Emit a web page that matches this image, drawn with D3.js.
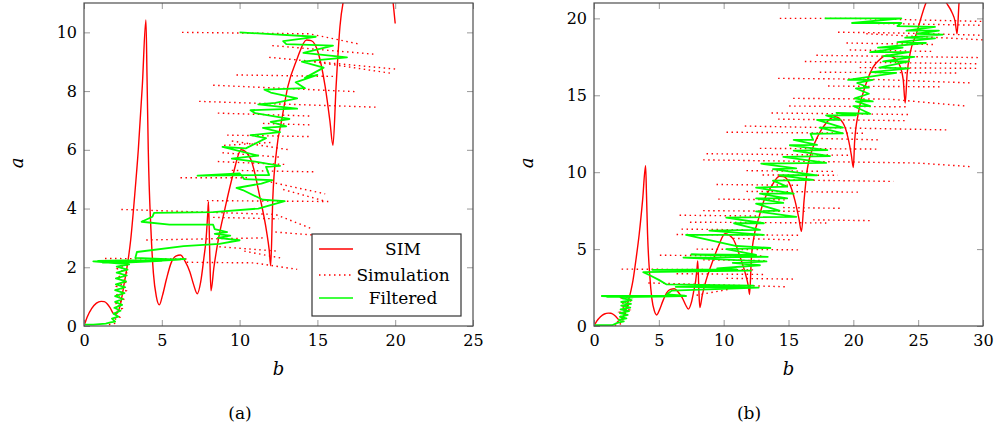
<!DOCTYPE html>
<html>
<head>
<meta charset="utf-8">
<script src="https://cdn.jsdelivr.net/npm/d3@7"></script>
<style>
body { margin: 0; background: #fff; }
</style>
</head>
<body>
<script>
// SIM curve (shared by both panels)
var simB = [0,0.2,0.5,0.8,1.1,1.3,1.5,1.7,1.9,2.05,2.3,2.6,2.85,3.0,3.25,3.49,3.75,3.98,4.05,4.13,
  4.3,4.46,4.65,4.84,5.05,5.3,5.6,5.9,6.2,6.5,6.8,7.05,7.28,7.5,7.7,7.84,7.95,8.0,8.08,8.16,
  8.35,8.63,9.06,9.6,10.1,10.7,11.3,11.74,11.9,12.0,12.13,12.38,12.7,13.1,13.67,14.3,14.6,15.06,15.5,15.8,
  16.0,16.2,16.45,16.8,17.3,17.9,18.6,19.2,19.6,19.85,20.0,20.1,20.4,21.0,21.5,22.0,22.6,23.2,23.6,23.85,
  24.0,24.15,24.4,24.86,25.6,26.4,27.18,27.6,27.85,28.0,28.15,28.4];
var simA = [0,0.3,0.6,0.78,0.84,0.83,0.75,0.6,0.42,0.4,0.65,1.5,2.3,2.93,4.4,6.0,8.2,10.42,8.5,6.0,
  3.3,1.8,1.0,0.72,1.05,1.6,2.15,2.38,2.42,2.2,1.85,1.4,1.1,1.5,2.3,2.93,3.8,4.23,2.5,1.2,
  2.0,2.93,4.0,5.2,6.0,5.7,4.4,3.2,2.6,2.05,4.3,6.0,7.0,8.15,9.06,9.74,9.72,9.29,8.15,7.0,
  6.15,8.15,10.2,11.4,12.4,13.2,13.6,13.2,12.2,11.1,10.3,12.0,13.9,15.8,16.8,17.3,17.6,17.4,16.9,16.0,
  14.5,16.4,17.8,19.0,21.0,22.0,21.0,20.4,19.8,19.0,21.0,23.0];

// Simulation (dotted) strokes, panel (a): each is a list of [b, a]
var simulationLeft = [
  [[6.3,10.0],[14.5,9.95],[17.7,9.6]],
  [[12.1,9.55],[18.8,9.25]],
  [[11.9,9.15],[20.0,8.75]],
  [[14.8,9.0],[19.8,8.6]],
  [[9.8,8.55],[16.0,8.5]],
  [[8.3,8.2],[17.5,7.98]],
  [[7.4,7.65],[18.9,7.45]],
  [[8.6,7.25],[14.6,7.15]],
  [[11.5,6.9],[14.5,6.85]],
  [[9.2,6.5],[14.6,6.45]],
  [[9.5,6.3],[13.2,6.0]],
  [[9.0,6.15],[12.0,6.25]],
  [[8.9,5.9],[12.6,5.75]],
  [[8.6,5.6],[13.0,5.5]],
  [[6.2,5.05],[10.5,5.05]],
  [[9.5,5.3],[14.8,5.25]],
  [[12.0,4.9],[15.5,4.5]],
  [[12.8,4.65],[15.5,4.25]],
  [[7.9,4.27],[15.7,4.24]],
  [[2.4,3.97],[12.3,3.8],[14.7,3.3]],
  [[8.3,3.7],[12.5,3.65]],
  [[12.3,3.2],[14.7,3.1]],
  [[4.0,2.93],[11.5,3.0]],
  [[8.7,2.7],[12.4,2.55]],
  [[10.3,2.55],[12.8,2.3]],
  [[1.35,2.3],[6.6,2.28]],
  [[6.6,2.17],[10.9,2.15],[13.7,1.93]],
  [[1.6,0.05],[2.1,0.1],[1.85,0.2],[2.3,0.3],[1.95,0.45],[2.45,0.6],[2.0,0.75],[2.6,0.9],[2.05,1.05],
   [2.7,1.2],[2.1,1.35],[2.75,1.5],[2.1,1.65],[2.8,1.8],[2.15,1.95],[2.9,2.1],[2.2,2.25]]
];

// Simulation (dotted) strokes, panel (b)
var simulationRight = [
  [[14.33,20.0],[19.98,20.0],[30,19.8]],
  [[19.98,19.7],[30,19.55]],
  [[18.82,19.1],[23.57,19.05],[30,18.9]],
  [[21.0,19.0],[30,18.6]],
  [[19.47,18.4],[26.14,18.3]],
  [[19.72,17.95],[26.14,17.85]],
  [[17.15,17.6],[29.74,17.45]],
  [[16.26,17.2],[29.74,17.05]],
  [[20.49,16.8],[29.74,16.75]],
  [[17.41,16.5],[27.94,16.45]],
  [[14.2,16.1],[21.0,16.05],[29.22,15.8]],
  [[18.05,15.6],[26.66,15.55]],
  [[15.36,14.8],[22.8,14.75],[28.7,14.3]],
  [[15.05,14.3],[24.1,14.25]],
  [[13.69,13.85],[24.3,13.75]],
  [[14.2,13.45],[24.0,13.35]],
  [[11.63,13.0],[27.17,12.75]],
  [[10.22,12.6],[21.0,12.53]],
  [[17.15,12.2],[22.03,12.1]],
  [[12.79,11.55],[22.0,11.5]],
  [[8.68,11.2],[19.72,11.1]],
  [[8.42,10.8],[24.86,10.6],[29.22,10.35]],
  [[11.76,10.1],[18.44,10.05]],
  [[13.0,9.82],[18.8,9.8]],
  [[14.6,9.5],[23.1,9.4]],
  [[9.45,9.2],[15.87,9.15]],
  [[11.76,8.75],[20.49,8.7]],
  [[9.58,8.25],[14.84,8.2]],
  [[14.59,7.7],[19.21,7.65]],
  [[8.42,7.5],[16.5,7.45]],
  [[6.6,7.2],[12.79,7.15]],
  [[16.9,6.9],[21.3,6.85]],
  [[7.4,6.75],[17.92,6.7]],
  [[6.75,6.3],[11.76,6.25]],
  [[6.37,5.95],[15.87,5.9]],
  [[10.73,5.7],[15.36,5.6]],
  [[7.91,5.0],[15.87,4.95]],
  [[5.08,4.6],[13.05,4.55]],
  [[8.42,4.3],[13.3,4.25]],
  [[2.13,3.7],[12.27,3.65]],
  [[6.37,3.4],[13.3,3.35]],
  [[10.22,3.1],[15.36,3.05]],
  [[4.19,2.8],[14.84,2.55]],
  [[7.91,2.0],[10.48,2.4]],
  [[1.6,0.05],[2.1,0.15],[1.85,0.3],[2.4,0.45],[1.95,0.6],[2.6,0.75],[2.0,0.9],[2.7,1.05],[2.1,1.2],
   [2.8,1.35],[2.15,1.5],[2.9,1.65],[2.2,1.8],[2.6,1.9]]
];

// Filtered (green) path, panel (a)
var filteredLeft = [[0,0.05],[0.6,0.05],[1.4,0.08],[1.7,0.12],
  [2.0,0.15],[1.8,0.25],[2.2,0.32],[1.9,0.42],[2.35,0.52],[1.95,0.62],[2.45,0.72],[2.0,0.82],[2.5,0.92],
  [2.0,1.02],[2.6,1.12],[2.0,1.22],[2.65,1.32],[2.05,1.42],[2.7,1.52],[2.05,1.62],[2.75,1.72],[2.1,1.82],
  [2.8,1.92],[2.1,2.02],[2.9,2.1],
  [0.6,2.2],[6.5,2.28],[0.9,2.22],[5.8,2.26],[1.2,2.16],[5.0,2.22],[2.0,2.14],[6.2,2.26],[3.3,2.32],
  [3.4,2.52],[6.4,2.72],[8.7,2.8],[10.0,2.92],[8.6,3.0],[9.4,3.08],[8.4,3.14],[9.2,3.2],[8.4,3.3],
  [8.3,3.45],[5.5,3.45],[3.7,3.55],[4.4,3.72],[4.5,3.85],[8.3,3.88],[11.2,4.0],[12.9,4.25],[11.5,4.3],
  [11.1,4.4],[10.2,4.63],[9.8,4.7],[11.4,4.85],[12.1,4.97],[10.3,5.0],[10.0,5.2],[7.3,5.12],[11.9,5.14],
  [11.7,5.42],[12.6,5.45],[11.0,5.6],[9.5,5.7],[11.2,5.8],[8.9,6.1],[10.4,6.05],[11.7,6.4],[10.7,6.5],
  [12.6,6.6],[11.5,6.75],[13.0,6.8],[12.0,6.95],[13.2,7.05],[11.0,7.25],[10.7,7.35],[13.7,7.4],[11.2,7.55],
  [12.3,7.6],[13.7,7.75],[12.0,7.95],[11.6,8.05],[14.2,8.1],[13.6,8.3],[15.0,8.55],[14.2,8.45],[15.4,8.8],
  [14.0,9.0],[16.9,9.15],[14.1,9.3],[16.0,9.55],[13.0,9.6],[12.8,9.7],[14.9,9.85],[10.0,10.0]];

// Filtered (green) path, panel (b)
var filteredRight = [[0,0.05],[1.4,0.05],[1.8,0.2],[2.3,0.3],[1.9,0.4],[2.5,0.5],[2.0,0.6],[2.6,0.72],
  [2.0,0.84],[2.7,0.96],[2.05,1.08],[2.8,1.2],[2.1,1.32],[2.85,1.44],[2.1,1.56],[2.9,1.68],[2.2,1.8],[3.0,1.86],
  [0.6,1.95],[7.1,1.95],[1.0,1.9],[6.5,1.93],[2.0,1.88],[7.0,1.97],[5.6,2.05],
  [6.0,2.3],[12.7,2.5],[6.3,2.55],[12.3,2.62],[5.6,2.7],[5.0,3.0],[4.3,3.3],[3.8,3.5],[12.1,3.6],[4.5,3.65],
  [11.0,3.68],[9.5,3.75],[12.8,3.95],[10.7,4.1],[13.3,4.2],[6.9,4.45],[13.4,4.5],[7.5,4.65],[12.5,4.62],
  [10.2,5.0],[13.6,5.07],[11.0,5.2],[7.1,5.92],[13.1,5.92],[8.9,6.2],[12.8,6.25],[10.8,6.68],[13.1,6.68],
  [10.2,7.05],[15.6,7.1],[12.5,7.45],[14.3,7.5],[12.5,7.95],[14.6,8.0],[12.5,8.3],[14.9,8.3],[12.8,8.6],
  [15.4,8.6],[12.5,9.0],[14.9,9.06],[13.8,9.45],[16.9,9.5],[14.3,9.8],[17.2,9.8],[13.8,10.2],[15.6,10.25],
  [12.9,10.55],[17.9,10.6],[14.6,11.0],[18.2,11.05],[15.4,11.4],[18.0,11.44],[15.1,11.75],[17.2,11.77],
  [15.4,12.1],[16.9,12.1],[16.7,12.5],[19.2,12.53],[17.4,12.9],[19.2,12.9],[17.2,13.4],[19.0,13.4],
  [17.9,13.7],[20.2,13.7],[18.7,13.85],[21.3,13.8],[20.0,14.3],[21.3,14.3],[20.2,14.6],[21.5,14.6],
  [20.1,14.8],[21.2,15.1],[20.2,15.45],[21.2,15.5],[20.3,15.8],[21.5,16.0],[19.6,16.0],[23.3,16.45],
  [21.4,16.5],[24.3,16.75],[22.0,16.8],[24.3,17.2],[22.3,17.2],[24.7,17.5],[22.3,17.55],[24.3,17.8],
  [21.3,17.8],[23.8,18.1],[21.9,18.1],[25.6,18.4],[23.4,18.45],[26.3,18.7],[24.0,18.75],[26.9,18.95],
  [24.9,19.0],[26.6,19.2],[24.1,19.2],[26.3,19.45],[23.4,19.5],[23.7,19.7],[19.9,19.7],[23.7,20.0],[17.8,20.0]];

var xTicksLeft = [0, 5, 10, 15, 20, 25];
var yTicksLeft = [0, 2, 4, 6, 8, 10];
var xTicksRight = [0, 5, 10, 15, 20, 25, 30];
var yTicksRight = [0, 5, 10, 15, 20];
var legendNames = ["SIM", "Simulation", "Filtered"];

var RED = "#ff0000", GREEN = "#00ff00";
var SERIF = "DejaVu Serif";

var svg = d3.select("body").append("svg")
  .attr("width", 998)
  .attr("height", 432)
  .style("font-family", SERIF);

function panel(cfg) {
  var x = d3.scaleLinear().domain([0, cfg.xMax]).range([cfg.left, cfg.right]);
  var y = d3.scaleLinear().domain([0, cfg.yMax]).range([326, 3]);
  var g = svg.append("g");

  g.append("clipPath").attr("id", cfg.id)
    .append("rect")
    .attr("x", cfg.left).attr("y", 3)
    .attr("width", cfg.right - cfg.left).attr("height", 323);

  var plot = g.append("g").attr("clip-path", "url(#" + cfg.id + ")");

  var line = d3.line()
    .x(function(d) { return x(d[0]); })
    .y(function(d) { return y(d[1]); });

  // SIM
  var simPts = simB.map(function(b, i) { return [b, simA[i]]; })
    .filter(function(d) { return d[0] <= cfg.simMax; });
  plot.append("path")
    .datum(simPts)
    .attr("fill", "none")
    .attr("stroke", RED)
    .attr("stroke-width", 1.4)
    .attr("d", line.curve(d3.curveMonotoneX));

  // Simulation
  line.curve(d3.curveLinear);
  plot.selectAll(".simu")
    .data(cfg.simulation)
    .enter().append("path")
    .attr("class", "simu")
    .attr("fill", "none")
    .attr("stroke", RED)
    .attr("stroke-width", 1.4)
    .attr("stroke-dasharray", "1.5,3.5")
    .attr("d", line);

  // Filtered
  plot.append("path")
    .datum(cfg.filtered)
    .attr("fill", "none")
    .attr("stroke", GREEN)
    .attr("stroke-width", 1.8)
    .attr("stroke-linejoin", "round")
    .attr("d", line);

  // ticks on all four sides, pointing inwards
  var tickCol = "#999";
  var ax = [
    [d3.axisBottom(x).tickValues(cfg.xTicks).tickSizeInner(-6).tickSizeOuter(0).tickPadding(9), "translate(0,326)"],
    [d3.axisTop(x).tickValues(cfg.xTicks).tickSizeInner(-6).tickSizeOuter(0).tickFormat(""), "translate(0,3)"],
    [d3.axisLeft(y).tickValues(cfg.yTicks).tickSizeInner(-6).tickSizeOuter(0).tickPadding(7), "translate(" + cfg.left + ",0)"],
    [d3.axisRight(y).tickValues(cfg.yTicks).tickSizeInner(-6).tickSizeOuter(0).tickFormat(""), "translate(" + cfg.right + ",0)"]
  ];
  ax.forEach(function(a) {
    var ag = g.append("g").attr("transform", a[1]).call(a[0]);
    ag.attr("font-family", null).attr("font-size", null);
    ag.select(".domain").remove();
    ag.selectAll("line").attr("stroke", tickCol);
    ag.selectAll("text")
      .attr("fill", "#000")
      .style("font-family", SERIF)
      .style("font-size", "16px");
  });

  g.append("rect")
    .attr("x", cfg.left).attr("y", 3)
    .attr("width", cfg.right - cfg.left).attr("height", 323)
    .attr("fill", "none")
    .attr("stroke", "#4d4d4d")
    .attr("stroke-width", 1.2);

  // axis labels
  g.append("text")
    .attr("x", (cfg.left + cfg.right) / 2)
    .attr("y", 375)
    .attr("text-anchor", "middle")
    .style("font-family", SERIF)
    .style("font-style", "italic")
    .style("font-size", "18px")
    .text("b");
  g.append("text")
    .attr("transform", "translate(" + (cfg.left - 66) + ",163) rotate(-90)")
    .attr("text-anchor", "middle")
    .attr("dy", "0.3em")
    .style("font-family", SERIF)
    .style("font-style", "italic")
    .style("font-size", "18px")
    .text("a");
  g.append("text")
    .attr("x", cfg.captionX)
    .attr("y", 419)
    .attr("text-anchor", "middle")
    .style("font-family", SERIF)
    .style("font-size", "17px")
    .text(cfg.caption);

  return { x: x, y: y, g: g };
}

var pa = panel({ id: "clipA", left: 84, right: 473, xMax: 25, yMax: 11, simMax: 20,
  xTicks: xTicksLeft, yTicks: yTicksLeft, simulation: simulationLeft, filtered: filteredLeft,
  caption: "(a)", captionX: 240 });

panel({ id: "clipB", left: 594, right: 983, xMax: 30, yMax: 21, simMax: 30,
  xTicks: xTicksRight, yTicks: yTicksRight, simulation: simulationRight, filtered: filteredRight,
  caption: "(b)", captionX: 749 });

// legend in panel (a)
var leg = pa.g.append("g").attr("transform", "translate(312,234)");
leg.append("rect")
  .attr("width", 149).attr("height", 82)
  .attr("fill", "#fff")
  .attr("stroke", "#333")
  .attr("stroke-width", 1.2);
var rows = leg.selectAll(".row")
  .data(legendNames)
  .enter().append("g")
  .attr("class", "row")
  .attr("transform", function(d, i) { return "translate(0," + [15, 41, 64][i] + ")"; });
rows.append("line")
  .attr("x1", 7).attr("x2", 41)
  .attr("stroke", function(d, i) { return i == 2 ? GREEN : RED; })
  .attr("stroke-width", function(d, i) { return i == 1 ? 1.4 : 1.6; })
  .attr("stroke-dasharray", function(d, i) { return i == 1 ? "1.5,3.5" : null; });
rows.append("text")
  .attr("x", 91)
  .attr("dy", "0.35em")
  .attr("text-anchor", "middle")
  .style("font-family", SERIF)
  .style("font-size", "17px")
  .text(function(d) { return d; });
</script>
</body>
</html>
